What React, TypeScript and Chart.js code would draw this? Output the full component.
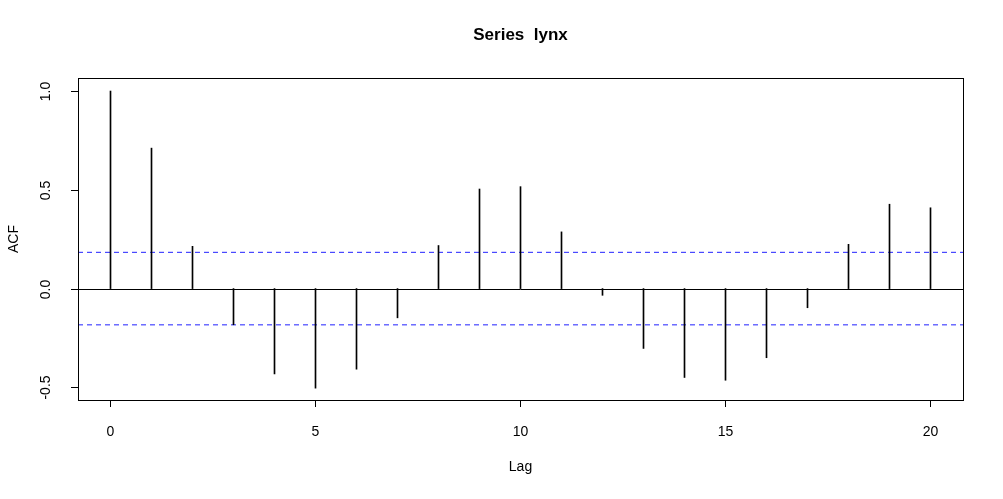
import React, { useEffect, useRef } from 'react';
import { Chart, registerables } from 'chart.js';

Chart.register(...registerables);

const lags = [0, 1, 2, 3, 4, 5, 6, 7, 8, 9, 10, 11, 12, 13, 14, 15, 16, 17, 18, 19, 20];
const acf = [1.0, 0.711, 0.214, -0.183, -0.432, -0.504, -0.408, -0.148, 0.218, 0.504, 0.516, 0.287,
  -0.034, -0.303, -0.45, -0.464, -0.35, -0.097, 0.224, 0.427, 0.409];
const ciBound = 0.1836;
const xTicks = [0, 5, 10, 15, 20];
const yTicks = [-0.5, 0.0, 0.5, 1.0];
const FONT = '"Liberation Sans", Arial, sans-serif';
const X_MIN = -32.5 / 41;
const X_MAX = X_MIN + 885 / 41;

const axesPlugin = {
  id: 'rAxes',
  afterDraw(chart: any) {
    const { ctx, chartArea: a, scales } = chart;
    const xs = scales.x, ys = scales.y;
    ctx.save();
    ctx.strokeStyle = '#000';
    ctx.fillStyle = '#000';
    ctx.lineWidth = 1;
    ctx.strokeRect(a.left + 0.5, a.top + 0.5, a.right - a.left, a.bottom - a.top);
    const y0 = Math.round(ys.getPixelForValue(0)) + 0.5;
    ctx.beginPath(); ctx.moveTo(a.left, y0); ctx.lineTo(a.right, y0); ctx.stroke();
    ctx.font = `14px ${FONT}`;
    ctx.beginPath();
    ctx.moveTo(xs.getPixelForValue(0), a.bottom + 0.5);
    ctx.lineTo(xs.getPixelForValue(20), a.bottom + 0.5);
    ctx.stroke();
    ctx.textAlign = 'center'; ctx.textBaseline = 'middle';
    xTicks.forEach((t) => {
      const px = Math.floor(xs.getPixelForValue(t)) + 0.5;
      ctx.beginPath(); ctx.moveTo(px, a.bottom); ctx.lineTo(px, a.bottom + 7); ctx.stroke();
      ctx.fillText(String(t), px, a.bottom + 32);
    });
    ctx.beginPath();
    ctx.moveTo(a.left + 0.5, ys.getPixelForValue(-0.5));
    ctx.lineTo(a.left + 0.5, ys.getPixelForValue(1));
    ctx.stroke();
    yTicks.forEach((t) => {
      const py = Math.round(ys.getPixelForValue(t)) + 0.5;
      ctx.beginPath(); ctx.moveTo(a.left, py); ctx.lineTo(a.left - 7, py); ctx.stroke();
      ctx.save();
      ctx.translate(a.left - 32, py);
      ctx.rotate(-Math.PI / 2);
      ctx.fillText(t.toFixed(1), 0, 0);
      ctx.restore();
    });
    const cx = (a.left + a.right) / 2;
    ctx.fillText('Lag', cx, 467);
    ctx.save();
    ctx.translate(14, (a.top + a.bottom) / 2);
    ctx.rotate(-Math.PI / 2);
    ctx.fillText('ACF', 0, 0);
    ctx.restore();
    ctx.font = `bold 17px ${FONT}`;
    ctx.fillText('Series  lynx', cx, 35);
    ctx.restore();
  },
};

const App: React.FC = () => {
  const canvasRef = useRef<HTMLCanvasElement | null>(null);

  useEffect(() => {
    if (!canvasRef.current) return;
    const ci = (v: number) => [{ x: X_MIN, y: v }, { x: X_MAX, y: v }];
    const chart = new Chart(canvasRef.current, {
      type: 'bar',
      data: {
        datasets: [
          {
            type: 'bar',
            data: lags.map((l, i) => ({ x: l, y: [0, acf[i]] })) as any,
            backgroundColor: '#000',
            barThickness: 1,
            borderWidth: 0,
          },
          {
            type: 'line',
            data: ci(ciBound) as any,
            borderColor: '#2020ff',
            borderWidth: 1,
            borderDash: [5, 4],
            pointRadius: 0,
          },
          {
            type: 'line',
            data: ci(-ciBound) as any,
            borderColor: '#2020ff',
            borderWidth: 1,
            borderDash: [5, 4],
            pointRadius: 0,
          },
        ],
      },
      options: {
        animation: false,
        responsive: false,
        layout: { padding: { left: 78, top: 78, right: 40, bottom: 99 } },
        plugins: { legend: { display: false }, tooltip: { enabled: false } },
        scales: {
          x: { type: 'linear', min: X_MIN, max: X_MAX, display: false, offset: false },
          y: { min: -0.564, max: 1.066, display: false },
        },
      },
      plugins: [axesPlugin],
    });
    return () => chart.destroy();
  }, []);

  return (
    <div style={{ position: 'fixed', left: 0, top: 0, background: '#fff' }}>
      <canvas ref={canvasRef} width={1003} height={499} style={{ width: 1003, height: 499 }} />
    </div>
  );
};

export default App;
